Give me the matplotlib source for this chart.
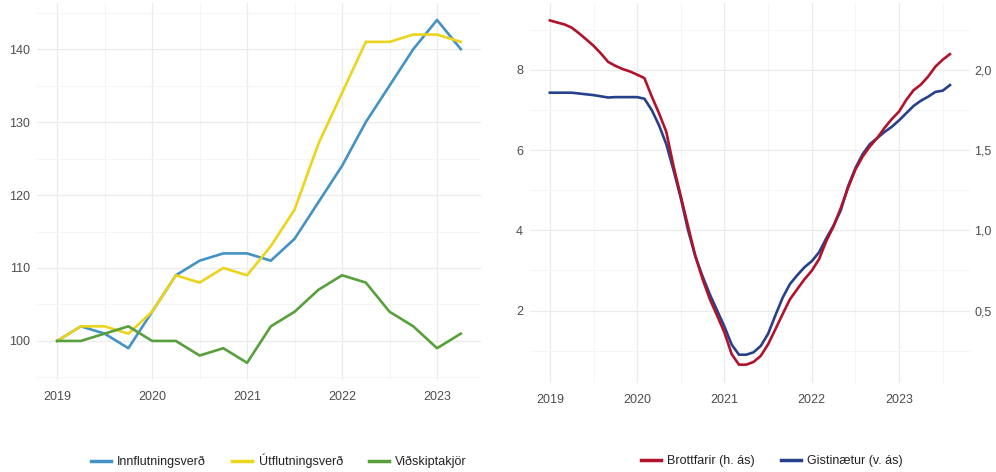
import numpy as np
import matplotlib.pyplot as plt
from matplotlib.lines import Line2D
from matplotlib.ticker import FixedLocator, FuncFormatter

plt.rcParams['font.family'] = ['Liberation Sans', 'DejaVu Sans']

# left panel: quarterly index, 2019Q1 = 100
quarters = [2019 + i * 0.25 for i in range(18)]
innflutningsverd = [100, 102, 101, 99, 104, 109, 111, 112, 112, 111, 114, 119, 124, 130, 135, 140, 144, 140]
utflutningsverd = [100, 102, 102, 101, 104, 109, 108, 110, 109, 113, 118, 127, 134, 141, 141, 142, 142, 141]
vidskiptakjor = [100, 100, 101, 102, 100, 100, 98, 99, 97, 102, 104, 107, 109, 108, 104, 102, 99, 101]

# right panel: monthly, Jan 2019 - Aug 2023
months = [2019 + i / 12 for i in range(56)]
gistinaetur = [7.43, 7.43, 7.43, 7.43, 7.41, 7.39, 7.37, 7.34, 7.31, 7.32, 7.32, 7.32,
               7.32, 7.28, 7.0, 6.62, 6.15, 5.5, 4.8, 4.0, 3.35, 2.85, 2.4, 2.0,
               1.6, 1.15, 0.9, 0.9, 0.96, 1.12, 1.42, 1.88, 2.32, 2.66, 2.88, 3.08,
               3.23, 3.45, 3.8, 4.12, 4.5, 5.1, 5.55, 5.9, 6.15, 6.3, 6.45, 6.58,
               6.74, 6.92, 7.1, 7.23, 7.33, 7.45, 7.48, 7.62]
brottfarir = [2.308, 2.295, 2.283, 2.263, 2.228, 2.19, 2.15, 2.103, 2.05, 2.025, 2.005, 1.99,
              1.97, 1.948, 1.835, 1.73, 1.615, 1.4, 1.213, 1.025, 0.84, 0.695, 0.57, 0.468,
              0.363, 0.228, 0.163, 0.163, 0.18, 0.218, 0.29, 0.383, 0.478, 0.57, 0.633, 0.695,
              0.748, 0.82, 0.933, 1.025, 1.14, 1.265, 1.378, 1.46, 1.523, 1.575, 1.638, 1.693,
              1.74, 1.813, 1.873, 1.908, 1.958, 2.02, 2.063, 2.098]
years = [2019, 2020, 2021, 2022, 2023]

c_inn, c_ut, c_vid = '#4492c6', '#ecd41c', '#57a03b'
c_brott, c_gist = '#b3122b', '#27408c'
txt = '#4d4d4d'

fig = plt.figure(figsize=(9.96, 4.72), dpi=100)
ax1 = fig.add_axes([0.0371, 0.195, 0.4458, 0.799])
ax2 = fig.add_axes([0.532, 0.189, 0.4418, 0.805])


def style(ax, xmin, xmax):
    ax.set_xlim(xmin, xmax)
    for s in ax.spines.values():
        s.set_visible(False)
    ax.set_xticks(years)
    ax.set_xticks([y + 0.5 for y in years if y + 0.5 < xmax], minor=True)
    ax.grid(True, which='major', color='#ebebeb', lw=0.9)
    ax.grid(True, which='minor', color='#f4f4f4', lw=0.6)
    ax.set_axisbelow(True)
    ax.tick_params(which='both', length=0, labelsize=9, labelcolor=txt, pad=5)
    ax.tick_params(axis='x', pad=8)


ax1.plot(quarters, innflutningsverd, color=c_inn, lw=1.9)
ax1.plot(quarters, utflutningsverd, color=c_ut, lw=1.9)
ax1.plot(quarters, vidskiptakjor, color=c_vid, lw=1.9)
style(ax1, 2018.7875, 2023.4625)
ax1.set_ylim(94.65, 146.35)
ax1.set_yticks([100, 110, 120, 130, 140])
ax1.yaxis.set_minor_locator(FixedLocator([95, 105, 115, 125, 135, 145]))

ax2.plot(months, gistinaetur, color=c_gist, lw=1.9)
style(ax2, 2018.771, 2023.812)
ax2.set_ylim(0.2, 9.67)
ax2.set_yticks([2, 4, 6, 8])
ax2.yaxis.set_minor_locator(FixedLocator([1, 3, 5, 7, 9]))

ax3 = ax2.twinx()
ax3.plot(months, brottfarir, color=c_brott, lw=1.9)
ax3.set_ylim(0.2 / 4, 9.67 / 4)
ax3.set_yticks([0.5, 1.0, 1.5, 2.0])
ax3.yaxis.set_major_formatter(FuncFormatter(lambda v, p: f'{v:.1f}'.replace('.', ',')))
for s in ax3.spines.values():
    s.set_visible(False)
ax3.tick_params(length=0, labelsize=9, labelcolor=txt, pad=3)

h1 = [Line2D([], [], color=c, lw=2.5) for c in (c_inn, c_ut, c_vid)]
fig.legend(h1, ['Innflutningsverð', 'Útflutningsverð', 'Viðskiptakjör'],
           loc='center', bbox_to_anchor=(0.28, 0.023), ncol=3, frameon=False,
           fontsize=9, handlelength=1.6, handletextpad=0.5, columnspacing=2.1,
           labelcolor='#222222')
h2 = [Line2D([], [], color=c, lw=2.5) for c in (c_brott, c_gist)]
fig.legend(h2, ['Brottfarir (h. ás)', 'Gistinætur (v. ás)'],
           loc='center', bbox_to_anchor=(0.775, 0.023), ncol=2, frameon=False,
           fontsize=9, handlelength=1.6, handletextpad=0.5, columnspacing=2.1,
           labelcolor='#222222')

fig.savefig('out.png', dpi=100)
